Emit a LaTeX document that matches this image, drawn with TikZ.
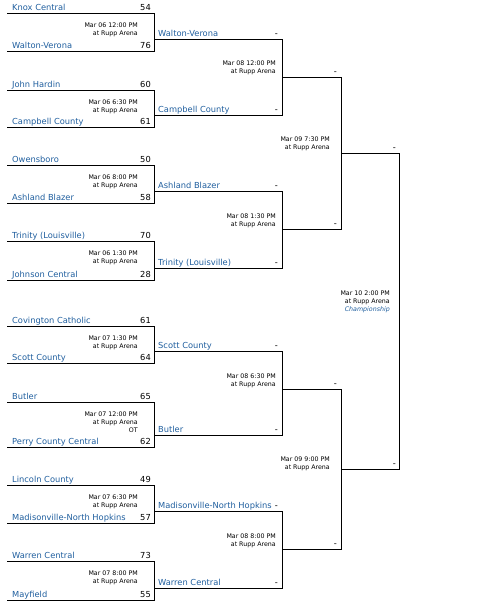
\documentclass[tikz,border=0pt]{standalone}
\usepackage{fontspec}
\setmainfont{DejaVu Sans}
\definecolor{teamblue}{HTML}{1F5E9E}
\tikzset{
  team/.style={anchor=base west, text=teamblue, font=\fontsize{8.3}{9}\selectfont, inner sep=0pt},
  score/.style={anchor=base east, font=\fontsize{8.3}{9}\selectfont, inner sep=0pt},
  info/.style={anchor=north east, font=\fontsize{6.3}{8}\selectfont, inner sep=0pt, align=right},
  bline/.style={line width=0.8pt, line cap=rect},
}
% name, top, bottom, team1, score1, team2, score2, info text
\newcommand\MatchOne[8]{%
  \coordinate (#1tl) at (7,#2); \coordinate (#1tr) at (154,#2);
  \coordinate (#1br) at (154,#3); \coordinate (#1bl) at (7,#3);
  \draw[bline] (#1tl) -- (#1tr) -- (#1br) -- (#1bl);
  \node[team] (#1a) at (12,{#2-3}) {#4};
  \node[score] (#1as) at (151,{#2-3}) {#5};
  \node[team] (#1b) at (12,{#3-3}) {#6};
  \node[score] (#1bs) at (151,{#3-3}) {#7};
  \node[info] (#1d) at (138,{#2+9.6}) {#8};
}
% name, y1, y2, team1, team2, info, info y (centre of first line)
\newcommand\MatchTwo[7]{%
  \coordinate (#1tl) at (154,#2); \coordinate (#1tr) at (282,#2);
  \coordinate (#1br) at (282,#3); \coordinate (#1bl) at (154,#3);
  \draw[bline] (#1tl) -- (#1tr) -- (#1br) -- (#1bl);
  \node[team] (#1a) at (158,{#2-3}) {#4};
  \node[score] (#1as) at (278,{#2-3}) {-};
  \node[team] (#1b) at (158,{#3-3}) {#5};
  \node[score] (#1bs) at (278,{#3-3}) {-};
  \node[info] (#1d) at (276,{#7-2.4}) {#6};
}
% name, y1, y2, info, info y (centre of first line)
\newcommand\MatchThree[5]{%
  \coordinate (#1tl) at (282,#2); \coordinate (#1tr) at (341,#2);
  \coordinate (#1br) at (341,#3); \coordinate (#1bl) at (282,#3);
  \draw[bline] (#1tl) -- (#1tr) -- (#1br) -- (#1bl);
  \node[score] (#1as) at (337,{#2-3}) {-};
  \node[score] (#1bs) at (337,{#3-3}) {-};
  \node[info] (#1d) at (330,{#5-2.4}) {#4};
}
\begin{document}
\begin{tikzpicture}[x=1pt,y=-1pt]
  \useasboundingbox (0,0) rectangle (477,603);
  % first round
  \MatchOne{ma}{13}{51}{Knox Central}{54}{Walton-Verona}{76}{Mar 06 12:00 PM\\at Rupp Arena}
  \MatchOne{mb}{90}{127}{John Hardin}{60}{Campbell County}{61}{Mar 06 6:30 PM\\at Rupp Arena}
  \MatchOne{mc}{165}{203}{Owensboro}{50}{Ashland Blazer}{58}{Mar 06 8:00 PM\\at Rupp Arena}
  \MatchOne{md}{241}{280}{Trinity (Louisville)}{70}{Johnson Central}{28}{Mar 06 1:30 PM\\at Rupp Arena}
  \MatchOne{me}{326}{363}{Covington Catholic}{61}{Scott County}{64}{Mar 07 1:30 PM\\at Rupp Arena}
  \MatchOne{mf}{402}{447}{Butler}{65}{Perry County Central}{62}{Mar 07 12:00 PM\\at Rupp Arena\\OT}
  \MatchOne{mg}{485}{523}{Lincoln County}{49}{Madisonville-North Hopkins}{57}{Mar 07 6:30 PM\\at Rupp Arena}
  \MatchOne{mh}{561}{600}{Warren Central}{73}{Mayfield}{55}{Mar 07 8:00 PM\\at Rupp Arena}
  % quarterfinals
  \MatchTwo{qa}{39}{115}{Walton-Verona}{Campbell County}{Mar 08 12:00 PM\\at Rupp Arena}{63}
  \MatchTwo{qb}{191}{268}{Ashland Blazer}{Trinity (Louisville)}{Mar 08 1:30 PM\\at Rupp Arena}{216}
  \MatchTwo{qc}{351}{435}{Scott County}{Butler}{Mar 08 6:30 PM\\at Rupp Arena}{376}
  \MatchTwo{qd}{511}{588}{Madisonville-North Hopkins}{Warren Central}{Mar 08 8:00 PM\\at Rupp Arena}{536}
  % semifinals
  \MatchThree{sa}{77}{229}{Mar 09 7:30 PM\\at Rupp Arena}{139}
  \MatchThree{sb}{389}{549}{Mar 09 9:00 PM\\at Rupp Arena}{459}
  % final
  \coordinate (ftl) at (341,153); \coordinate (ftr) at (399,153);
  \coordinate (fbr) at (399,469); \coordinate (fbl) at (341,469);
  \draw[bline] (ftl) -- (ftr) -- (fbr) -- (fbl);
  \node[score] (fas) at (396,150) {-};
  \node[score] (fbs) at (396,466) {-};
  \node[info] (fd) at (390,290.6) {Mar 10 2:00 PM\\at Rupp Arena\\\textcolor{teamblue}{\itshape Championship}};
\end{tikzpicture}
\end{document}
